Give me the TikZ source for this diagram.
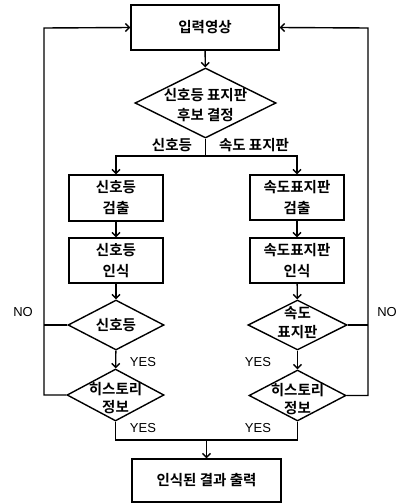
\documentclass[tikz,border=0pt]{standalone}
\usepackage{fontspec}
\setmainfont{Noto Sans CJK KR}[BoldFont={Noto Sans CJK KR Bold}]
\newfontfamily\latinf{Liberation Sans}
\usetikzlibrary{shapes.geometric,arrows.meta}
\begin{document}
\begin{tikzpicture}[x=1pt,y=-1pt,
  line width=1.4pt,
  >={Straight Barb[length=4pt,width=8pt]},
  boxn/.style={draw, rectangle, inner sep=0pt, line width=1.4pt},
  dia/.style={draw, diamond, inner sep=0pt, line width=1.4pt},
  txt/.style={font=\fontsize{14.5}{21}\selectfont\bfseries, align=center, inner sep=0pt},
  lab/.style={font=\fontsize{13}{15}\selectfont\latinf, inner sep=0pt},
  klab/.style={font=\fontsize{14.5}{16}\selectfont\bfseries, inner sep=0pt}]
\useasboundingbox (0,0) rectangle (401,503);

% boxes
\node[boxn, minimum width=148, minimum height=45] (top) at (205,27.5) {};
\node[txt] at (top) {입력영상};
\node[boxn, minimum width=94, minimum height=46] (lb1) at (116,198) {};
\node[txt] at (lb1) {신호등\\검출};
\node[boxn, minimum width=94, minimum height=45] (rb1) at (297,197.5) {};
\node[txt] at (rb1) {속도표지판\\검출};
\node[boxn, minimum width=94, minimum height=45] (lb2) at (116,260.5) {};
\node[txt] at (lb2) {신호등\\인식};
\node[boxn, minimum width=94, minimum height=45] (rb2) at (297,260.5) {};
\node[txt] at (rb2) {속도표지판\\인식};
\node[boxn, minimum width=149, minimum height=43] (bot) at (206.5,480.5) {};
\node[txt] at (bot) {인식된 결과 출력};

% diamonds
\node[dia, minimum width=141, minimum height=70] (d1) at (205.5,103) {};
\node[txt, font=\fontsize{14.5}{20}\selectfont\bfseries] at (205.5,105) {신호등 표지판\\후보 결정};
\node[dia, minimum width=96, minimum height=50] (dl1) at (116,325) {};
\node[txt] at (dl1) {신호등};
\node[dia, minimum width=99, minimum height=50] (dr1) at (297.5,325) {};
\node[txt, font=\fontsize{14.5}{19}\selectfont\bfseries] at (297.5,323) {속도\\표지판};
\node[dia, minimum width=97, minimum height=52] (dl2) at (115.5,395) {};
\node[txt, font=\fontsize{14.5}{18}\selectfont\bfseries] at (115.5,398) {히스토리\\정보};
\node[dia, minimum width=97, minimum height=51] (dr2) at (297.5,395.5) {};
\node[txt, font=\fontsize{14.5}{18}\selectfont\bfseries] at (297.5,399) {히스토리\\정보};

% connectors
\coordinate (br) at (205.5,156);
\draw[->] (top) -- (d1);
\draw (d1.south) -- (br);
\draw[->] (br) -| (lb1.north);
\draw[->] (br) -| (rb1.north);
\draw[->] (lb1) -- (lb2);
\draw[->] (rb1) -- (rb2);
\draw[->] (lb2) -- (dl1);
\draw[->] (rb2) -- (dr1);
\draw[->] (dl1) -- (dl2);
\draw[->] (dr1) -- (dr2);

\coordinate (lx) at (44,28);
\coordinate (rx) at (368,28);
\draw (dl1.west) -- (44,325);
\draw[->] (dl2.west) -| (lx) -- (top.west);
\draw (dr1.east) -- (368,325);
\draw[->] (dr2.east) -| (rx) -- (top.east);

\coordinate (jn) at (206.5,440);
\draw (dl2.south) |- (jn) -| (dr2.south);
\draw[->] (jn) -- (bot.north);

% labels
\node[klab] at (172,145) {신호등};
\node[klab] at (254,145) {속도 표지판};
\node[lab] at (23,312) {NO};
\node[lab] at (387,312) {NO};
\node[lab] at (143,362) {YES};
\node[lab] at (258,362) {YES};
\node[lab] at (143,428) {YES};
\node[lab] at (258,428) {YES};
\end{tikzpicture}
\end{document}
